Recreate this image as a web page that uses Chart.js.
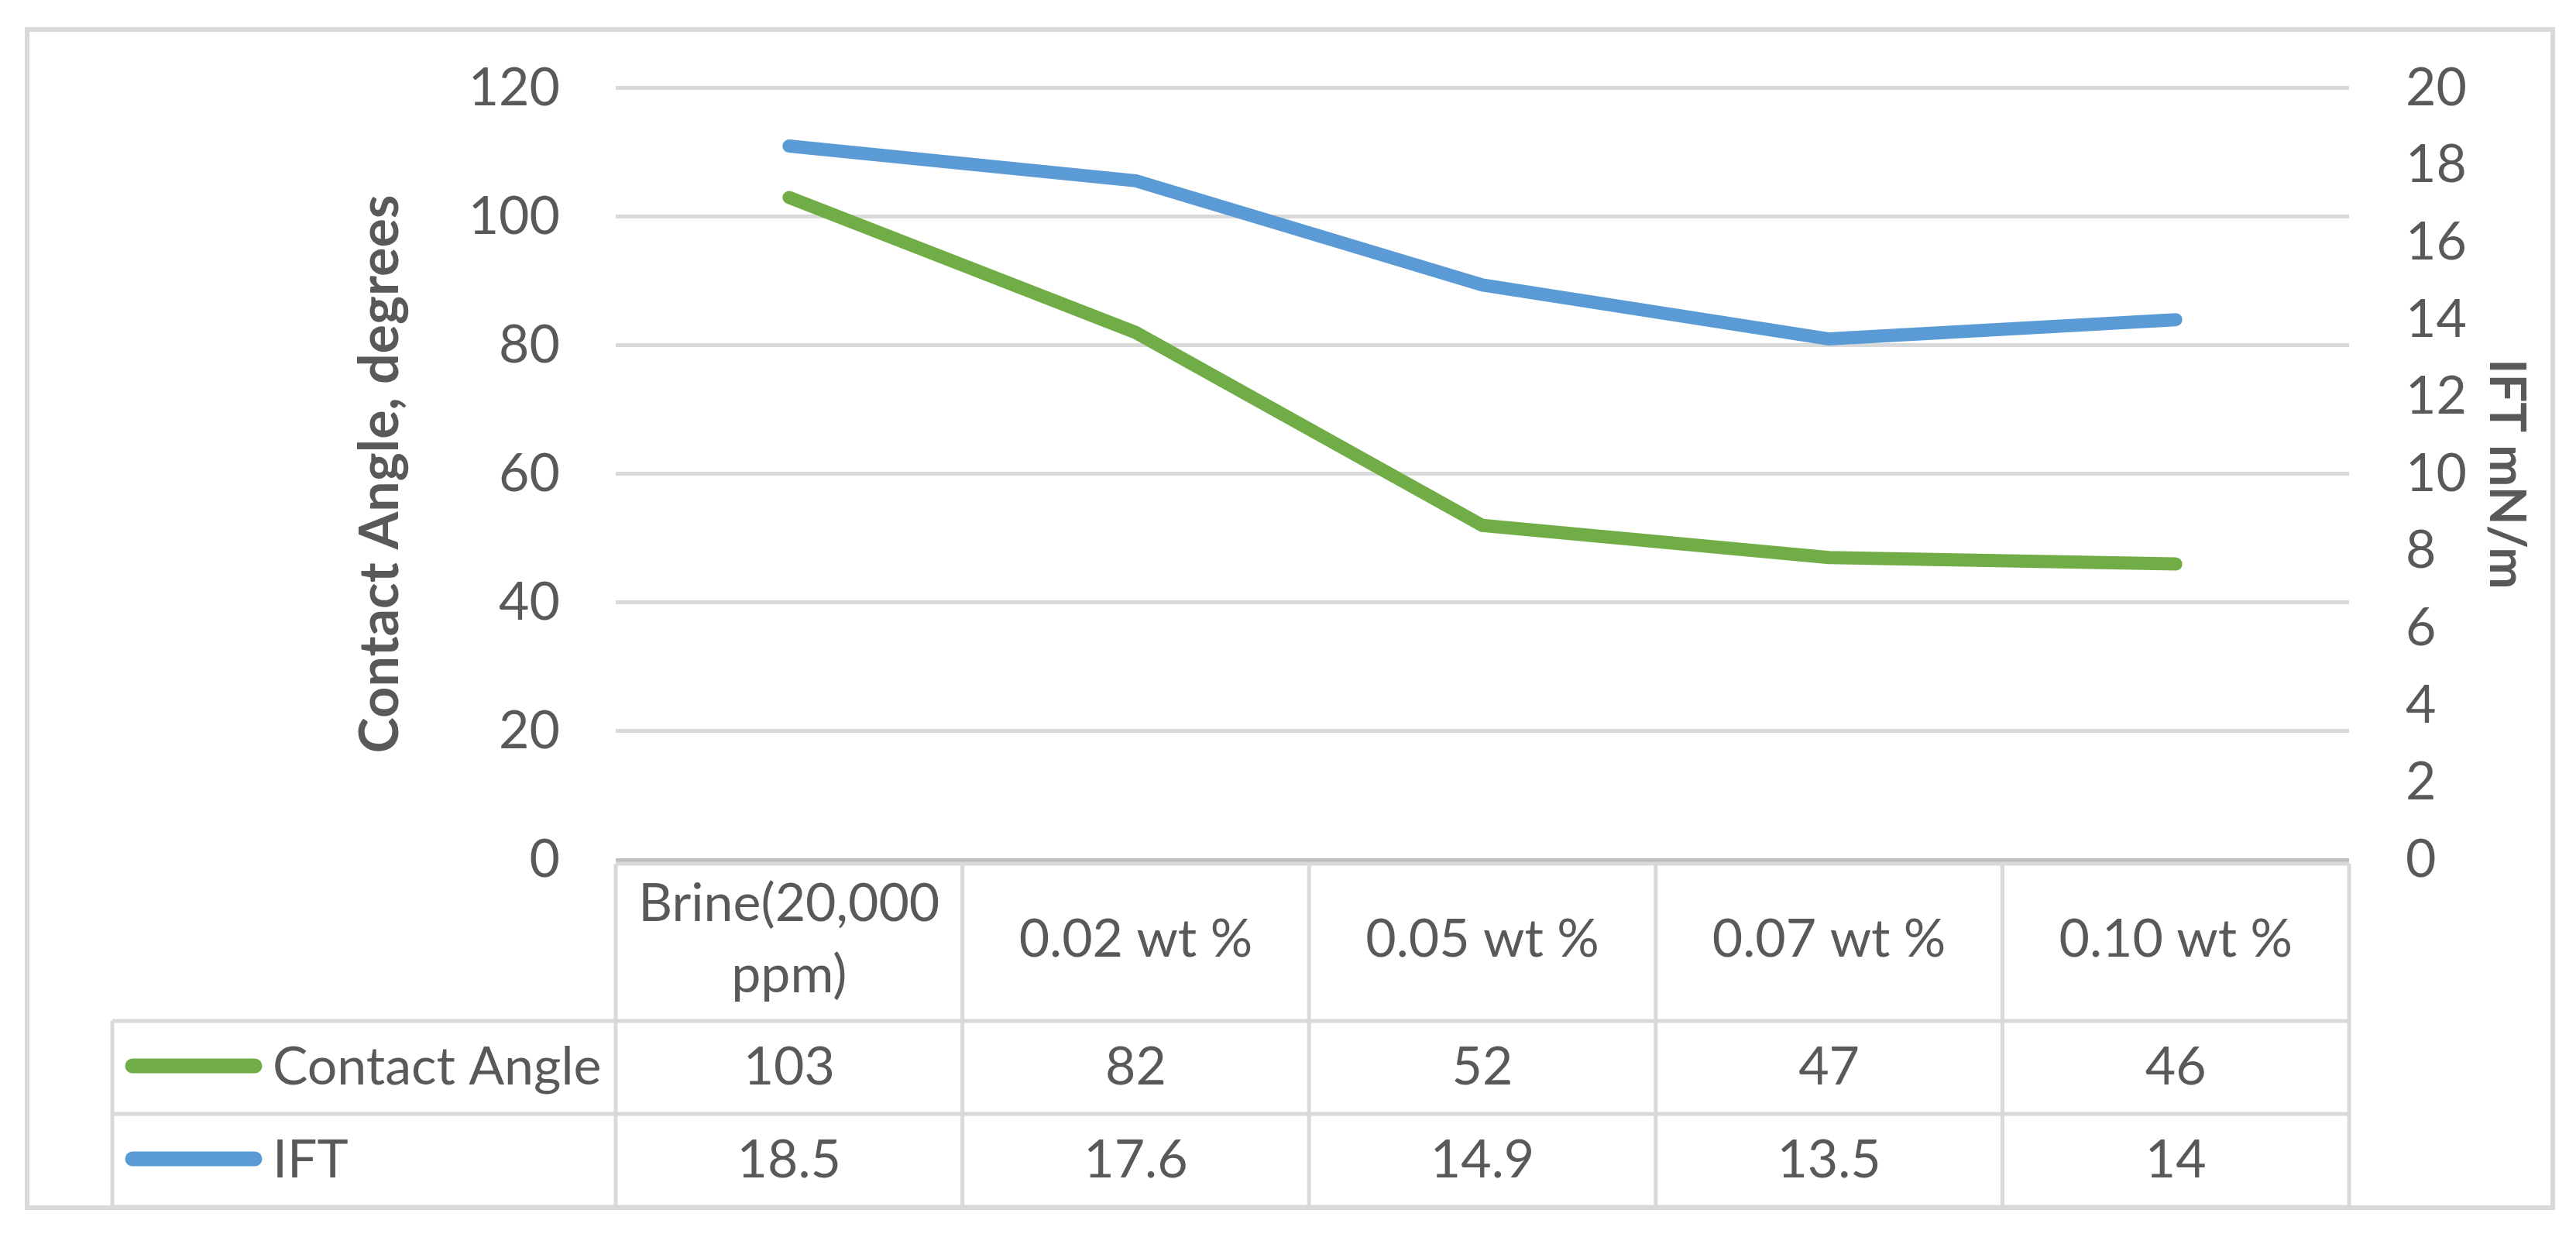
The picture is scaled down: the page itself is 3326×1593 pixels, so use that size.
<!DOCTYPE html>
<html>
<head>
<meta charset="utf-8">
<script src="https://cdn.jsdelivr.net/npm/chart.js@4/dist/chart.umd.min.js"></script>
<style>
  html, body { margin: 0; padding: 0; background: #ffffff; }
  #wrap { width: 3326px; height: 1593px; }
</style>
</head>
<body>
<div id="wrap"><canvas id="c" width="3326" height="1593"></canvas></div>
<script>
// ---- data ----
const categories = [["Brine(20,000", "ppm)"], "0.02 wt %", "0.05 wt %", "0.07 wt %", "0.10 wt %"];
const seriesNames = ["Contact Angle", "IFT"];
const contactAngle = [103, 82, 52, 47, 46];
const ift = [18.5, 17.6, 14.9, 13.5, 14];
const leftTicks = [0, 20, 40, 60, 80, 100, 120];
const rightTicks = [0, 2, 4, 6, 8, 10, 12, 14, 16, 18, 20];
const leftTitle = "Contact Angle, degrees";
const rightTitle = "IFT mN/m";

// ---- style ----
const FONT = "Lato, 'Open Sans', 'Liberation Sans', sans-serif";
const TEXT = "#595959";
const GRID = "#d9d9d9";
const GREEN = "#70ad47";
const BLUE = "#5b9bd5";
const FS = 68;

const tablePlugin = {
  id: 'dataTable',
  beforeDraw(chart) {
    const ctx = chart.ctx;
    ctx.save();
    ctx.fillStyle = '#ffffff';
    ctx.fillRect(0, 0, chart.width, chart.height);
    ctx.strokeStyle = GRID;
    ctx.lineWidth = 6;
    ctx.strokeRect(35, 38, 3261, 1521);
    ctx.restore();
  },
  afterDraw(chart) {
    const ctx = chart.ctx;
    const xs = chart.scales.x;
    const area = chart.chartArea;
    const n = categories.length;
    const step = (xs.getPixelForValue(1) - xs.getPixelForValue(0));
    const bounds = [];
    for (let i = 0; i < n; i++) bounds.push(xs.getPixelForValue(i) - step / 2);
    bounds.push(xs.getPixelForValue(n - 1) + step / 2);
    const legendLeft = 145;
    const headTop = area.bottom + 5;
    const row1Top = area.bottom + 208;
    const rowH = 120;
    const row2Top = row1Top + rowH;
    const tableBottom = row2Top + rowH;

    ctx.save();
    ctx.strokeStyle = GRID;
    ctx.lineWidth = 5;
    ctx.lineCap = 'butt';
    ctx.beginPath();
    ctx.moveTo(bounds[0], headTop); ctx.lineTo(bounds[n], headTop);
    [row1Top, row2Top, tableBottom].forEach(y => { ctx.moveTo(legendLeft, y); ctx.lineTo(bounds[n], y); });
    bounds.forEach(x => { ctx.moveTo(x, headTop); ctx.lineTo(x, tableBottom); });
    ctx.moveTo(legendLeft, row1Top); ctx.lineTo(legendLeft, tableBottom);
    ctx.stroke();

    const rows = [contactAngle, ift];
    const colors = [GREEN, BLUE];
    ctx.font = FS + "px " + FONT;
    ctx.fillStyle = TEXT;
    ctx.textBaseline = 'middle';
    rows.forEach((vals, r) => {
      const cy = row1Top + rowH * r + rowH / 2;
      ctx.textAlign = 'center';
      vals.forEach((v, i) => {
        ctx.fillText(String(v), xs.getPixelForValue(i), cy);
      });
      // legend key
      ctx.strokeStyle = colors[r];
      ctx.lineWidth = 19;
      ctx.lineCap = 'round';
      ctx.beginPath();
      ctx.moveTo(171, cy - 2); ctx.lineTo(329, cy - 2);
      ctx.stroke();
      ctx.textAlign = 'left';
      ctx.fillText(seriesNames[r], 352, cy);
    });
    ctx.restore();
  }
};

new Chart(document.getElementById('c'), {
  type: 'line',
  data: {
    labels: categories,
    datasets: [
      { label: seriesNames[0], data: contactAngle, yAxisID: 'y', borderColor: GREEN, backgroundColor: GREEN,
        borderWidth: 17, borderCapStyle: 'round', borderJoinStyle: 'round', pointRadius: 0, tension: 0 },
      { label: seriesNames[1], data: ift, yAxisID: 'y1', borderColor: BLUE, backgroundColor: BLUE,
        borderWidth: 17, borderCapStyle: 'round', borderJoinStyle: 'round', pointRadius: 0, tension: 0 }
    ]
  },
  options: {
    responsive: false,
    animation: false,
    devicePixelRatio: 1,
    layout: { padding: { top: 111, left: 0, right: 0, bottom: 0 } },
    plugins: { legend: { display: false }, tooltip: { enabled: false } },
    scales: {
      x: {
        type: 'category',
        offset: true,
        grid: { display: false, drawTicks: false, tickLength: 0 },
        border: { display: false },
        ticks: {
          autoSkip: false, maxRotation: 0, minRotation: 0,
          color: TEXT, padding: 57, crossAlign: 'center',
          font: { family: FONT, size: FS, lineHeight: 1.35 }
        },
        afterFit(s) { s.height = 483; }
      },
      y: {
        position: 'left',
        min: 0, max: 120,
        afterBuildTicks(s) { s.ticks = leftTicks.map(v => ({ value: v })); },
        grid: { color: c => (c.tick && c.tick.value === 0) ? '#bfbfbf' : GRID, lineWidth: 5, drawTicks: false },
        border: { display: false },
        ticks: { color: TEXT, padding: 72, font: { family: FONT, size: FS } },
        title: { display: true, text: leftTitle, color: TEXT, padding: { top: 449, bottom: 0 },
                 font: { family: FONT, size: 70, weight: 'bold', lineHeight: 1.2 } },
        afterFit(s) { s.width = 795; }
      },
      y1: {
        position: 'right',
        min: 0, max: 20,
        afterBuildTicks(s) { s.ticks = rightTicks.map(v => ({ value: v })); },
        grid: { display: false, drawTicks: false },
        border: { display: false },
        ticks: { color: TEXT, padding: 73, font: { family: FONT, size: FS } },
        title: { display: true, text: rightTitle, color: TEXT, padding: { top: 51, bottom: 0 },
                 font: { family: FONT, size: 65, weight: 'bold', lineHeight: 1.2 } },
        afterFit(s) { s.width = 293; }
      }
    }
  },
  plugins: [tablePlugin]
});
</script>
</body>
</html>
